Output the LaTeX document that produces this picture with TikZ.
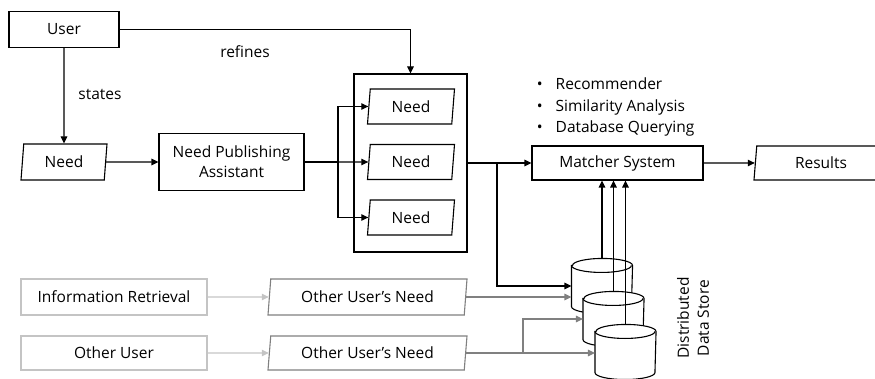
\documentclass[tikz,border=0pt]{standalone}
\usepackage{fontspec}
\setmainfont{Open Sans}
\usetikzlibrary{shapes.geometric,arrows.meta}
\definecolor{lightgr}{HTML}{C4C4C4}
\definecolor{midgr}{HTML}{808080}
\tikzset{
  arr/.style={-{Triangle[length=7pt,width=6.5pt]}},
  boxnode/.style={draw,rectangle,inner sep=0pt,line width=1.1pt},
  datanode/.style={draw,trapezium,trapezium left angle=77,trapezium right angle=103,
    trapezium stretches body,inner sep=0pt,line width=1.1pt},
  storenode/.style={rectangle,inner sep=0pt,minimum width=60pt,minimum height=54pt},
}
% cylinder round a store node
\newcommand{\drawstore}[1]{%
  \draw[fill=white] ([yshift=-7pt]#1.north west) -- ([yshift=7pt]#1.south west)
    arc[start angle=180,end angle=360,x radius=30pt,y radius=7pt]
    -- ([yshift=-7pt]#1.north east)
    arc[start angle=0,end angle=180,x radius=30pt,y radius=7pt] -- cycle;
  \draw ([yshift=-7pt]#1.north west) arc[start angle=180,end angle=360,x radius=30pt,y radius=7pt];}
\begin{document}
\begin{tikzpicture}[x=1pt,y=-1pt,font=\fontsize{15.5}{18}\selectfont,line width=1.1pt]
  \useasboundingbox (0,0) rectangle (875,379);
  % user and need
  \node[boxnode,minimum width=110pt,minimum height=36pt] (user) at (64,29.5) {User};
  \node[datanode,minimum width=86pt,minimum height=36pt] (need) at (64,162) {Need};
  \node[boxnode,minimum width=145pt,minimum height=57pt,align=center,
    font=\fontsize{15.5}{20}\selectfont] (npa) at (231.5,162) {Need Publishing\\Assistant};
  \node (refines) at (245,52) {refines};
  \node (states) at (100,94) {states};
  % refined needs
  \node[boxnode,minimum width=113pt,minimum height=178pt] (needs) at (410.5,163) {};
  \node[datanode,minimum width=87pt,minimum height=35pt] (needa) at (411,106.5) {Need};
  \node[datanode,minimum width=87pt,minimum height=35pt] (needb) at (411,162) {Need};
  \node[datanode,minimum width=87pt,minimum height=35pt] (needc) at (411,217.5) {Need};
  \draw[arr] (user.east) -| (needs.north);
  \draw[arr] (user.south) -- (need.north);
  \draw[arr] (need.east) -- (npa.west);
  \coordinate (fan) at (338,162);
  \draw (npa.east) -- (fan);
  \draw[arr] (fan) |- (needa.west);
  \draw[arr] (fan) -- (needb.west);
  \draw[arr] (fan) |- (needc.west);
  % matcher
  \node[boxnode,minimum width=171pt,minimum height=34pt] (matcher) at (617.5,163) {Matcher System};
  \node[datanode,minimum width=134pt,minimum height=34pt] (results) at (821,163) {Results};
  \node[anchor=west,align=left,font=\fontsize{15.5}{21.5}\selectfont] (tasks) at (533,107)
    {\textbullet\hspace{13pt}Recommender\\\textbullet\hspace{13pt}Similarity Analysis\\\textbullet\hspace{13pt}Database Querying};
  \draw[arr] (needs.east) -- (matcher.west);
  \draw[arr] (matcher.east) -- (results.west);
  % other sources
  \node[boxnode,draw=lightgr,minimum width=186pt,minimum height=36pt] (ir) at (114,297) {Information Retrieval};
  \node[boxnode,draw=lightgr,minimum width=186pt,minimum height=34pt] (ou) at (114,353) {Other User};
  \node[datanode,draw=midgr,minimum width=199pt,minimum height=36pt] (ouna) at (367.5,297) {Other User’s Need};
  \node[datanode,draw=midgr,minimum width=199pt,minimum height=34pt] (ounb) at (367.5,353) {Other User’s Need};
  \draw[arr,lightgr] (ir.east) -- (ouna.west);
  \draw[arr,lightgr] (ou.east) -- (ounb.west);
  % data store
  \node[storenode] (cyla) at (602,286) {};
  \drawstore{cyla}
  \node[storenode] (cylb) at (613.5,319) {};
  \drawstore{cylb}
  \node[storenode] (cylc) at (625.5,352) {};
  \drawstore{cylc}
  \node[rotate=90,align=center,font=\fontsize{15.5}{20}\selectfont] (store) at (693,318) {Distributed\\Data Store};
  \draw[arr] (cyla.north) -- (cyla.north |- matcher.south);
  \draw[arr] (cylb.north) -- (cylb.north |- matcher.south);
  \draw[arr] (cylc.north) -- (cylc.north |- matcher.south);
  \coordinate (br) at (497,163);
  \draw[arr] (br) |- (cyla.west);
  \draw[arr,midgr] (ouna.east) -- (ouna.east -| cyla.west);
  \coordinate (brb) at (523,353);
  \draw[arr,midgr] (ounb.east) -- (ounb.east -| cylc.west);
  \draw[arr,midgr] (brb) |- (cylb.west);
\end{tikzpicture}
\end{document}
